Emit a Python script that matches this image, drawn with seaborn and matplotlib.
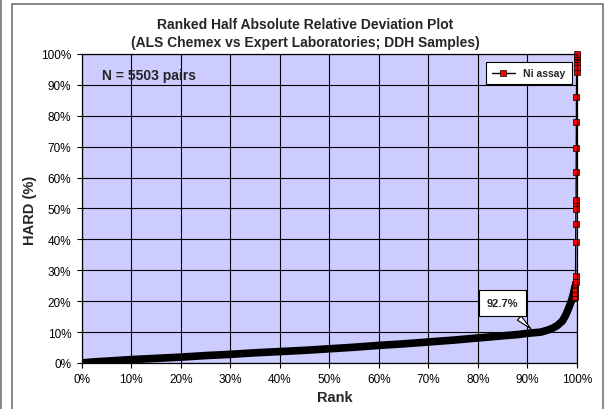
import numpy as np
import pandas as pd
import seaborn as sns
import matplotlib.pyplot as plt
from matplotlib.patches import Rectangle
from matplotlib.ticker import PercentFormatter, MultipleLocator

# ranked HARD curve (rank fraction, HARD fraction)
body_rank = [0.0, 0.02, 0.05, 0.10, 0.15, 0.20, 0.25, 0.30, 0.35, 0.40, 0.45, 0.50,
             0.55, 0.60, 0.65, 0.70, 0.75, 0.80, 0.85, 0.88, 0.90, 0.927, 0.94, 0.95,
             0.96, 0.97, 0.975, 0.98, 0.985, 0.99, 0.993, 0.995, 0.9965]
body_hard = [0.0, 0.003, 0.006, 0.011, 0.015, 0.019, 0.024, 0.028, 0.033, 0.037, 0.041, 0.046,
             0.051, 0.057, 0.062, 0.068, 0.074, 0.081, 0.088, 0.092, 0.096, 0.100, 0.106, 0.112,
             0.121, 0.135, 0.148, 0.165, 0.185, 0.207, 0.225, 0.24, 0.25]

# the outlying top end of the ranking (last pairs)
tail_rank = [0.9960, 0.9962, 0.9964, 0.9966, 0.9968, 0.9970, 0.9972, 0.9974, 0.9976, 0.9978,
             0.9980, 0.9982, 0.9984, 0.9986, 0.9988, 0.9990, 0.9992, 0.9993, 0.9994, 0.9996,
             0.9997, 0.9998, 1.0]
tail_hard = [0.215, 0.228, 0.24, 0.252, 0.256, 0.263, 0.28, 0.393, 0.45, 0.498,
             0.518, 0.528, 0.617, 0.695, 0.779, 0.86, 0.941, 0.957, 0.973, 0.985,
             0.99, 0.995, 0.999]

n_pairs = 5503
callout_label = '92.7%'

body = pd.DataFrame({'rank': body_rank, 'hard': body_hard})
tail = pd.DataFrame({'rank': tail_rank, 'hard': tail_hard})

sns.set_theme(style='white')
plt.rcParams['font.family'] = ['Liberation Sans', 'DejaVu Sans']

fig = plt.figure(figsize=(6.05, 4.10), dpi=100)
ax = fig.add_axes([0.1350, 0.1122, 0.8187, 0.7537])
ax.set_facecolor('#CCCCFF')

# dense part of the ranking shows as a solid black band
sns.lineplot(data=body, x='rank', y='hard', ax=ax, color='black', lw=5.5,
             solid_capstyle='round', legend=False)
# sparse top end: red squares joined by a thin line
sns.lineplot(data=tail, x='rank', y='hard', ax=ax, color='black', lw=1,
             marker='s', markersize=4.5, markerfacecolor='red',
             markeredgecolor='black', markeredgewidth=0.5, clip_on=False,
             label='Ni assay')

ax.set_xlim(0, 1)
ax.set_ylim(0, 1)
ax.xaxis.set_major_locator(MultipleLocator(0.1))
ax.yaxis.set_major_locator(MultipleLocator(0.1))
ax.xaxis.set_major_formatter(PercentFormatter(1.0, decimals=0))
ax.yaxis.set_major_formatter(PercentFormatter(1.0, decimals=0))
ax.grid(True, color='black', lw=0.8)
ax.set_axisbelow(True)
ax.tick_params(direction='out', length=3.5, width=0.8, color='black',
               labelsize=8.5, labelcolor='black', pad=4,
               bottom=True, left=True)
for side in ['left', 'bottom', 'top', 'right']:
    ax.spines[side].set_color('black')
    ax.spines[side].set_linewidth(0.9)
ax.set_xlabel('')
ax.set_ylabel('')

leg = ax.legend(loc='upper right', bbox_to_anchor=(1.0, 0.991), fancybox=False,
                frameon=True, framealpha=1, edgecolor='black', handlelength=2.2,
                borderpad=0.6, prop={'size': 7.5, 'weight': 'bold'})
leg.get_frame().set_linewidth(0.8)

ax.text(0.042, 0.932, f'N = {n_pairs} pairs', transform=ax.transAxes,
        ha='left', va='center', fontsize=10, fontweight='bold')

ax.annotate(callout_label, xy=(0.911, 0.105), xytext=(0.85, 0.194),
            ha='center', va='center', fontsize=8, fontweight='bold',
            bbox=dict(boxstyle='square,pad=0.7', fc='white', ec='black', lw=0.8),
            arrowprops=dict(arrowstyle='wedge,tail_width=0.5,shrink_factor=0.5',
                            fc='white', ec='black', lw=0.8))

fig.text(0.504, 0.917, 'Ranked Half Absolute Relative Deviation Plot\n'
         '(ALS Chemex vs Expert Laboratories; DDH Samples)',
         ha='center', va='center', fontsize=10, fontweight='bold', linespacing=1.3)
fig.text(0.554, 0.029, 'Rank', ha='center', va='center', fontsize=10.5, fontweight='bold')
fig.text(30 / 605, 1 - 210 / 410, 'HARD (%)', ha='center', va='center', rotation=90,
         fontsize=10.5, fontweight='bold')

# chart area border and the neighbouring frame edge
fig.add_artist(Rectangle((12 / 605, -0.02), (603 - 12) / 605, (410 - 5) / 410 + 0.02,
                         transform=fig.transFigure, fill=False, ec='#7f7f7f', lw=1.3))
fig.add_artist(Rectangle((0, 0), 2 / 605, 1, transform=fig.transFigure,
                         color='#8a8a8a', lw=0))

fig.savefig('out.png', dpi=100)
